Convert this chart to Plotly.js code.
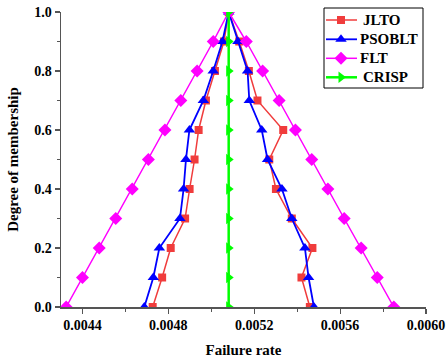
<!DOCTYPE html>
<html>
<head>
<meta charset="utf-8">
<script src="https://cdn.plot.ly/plotly-3.0.1.min.js"></script>
<style>html,body{margin:0;padding:0;background:#fff;}#chart{width:448px;height:364px;}</style>
</head>
<body>
<div id="chart"></div>
<script>
// membership levels (left branch up, then right branch down)
const membership = [0,0.1,0.2,0.3,0.4,0.5,0.6,0.7,0.8,0.9,1.0,0.9,0.8,0.7,0.6,0.5,0.4,0.3,0.2,0.1,0];

const jltoRate = [0.004727,0.004771,0.004811,0.004878,0.004899,0.004922,0.004941,0.004975,0.005017,0.005059,0.005081,
                  0.005130,0.005175,0.005215,0.005335,0.005270,0.005301,0.005375,0.005471,0.005420,0.005459];
const psobltRate = [0.004688,0.004730,0.004758,0.004854,0.004871,0.004882,0.004898,0.004963,0.005009,0.005052,0.005081,
                    0.005124,0.005169,0.005177,0.005235,0.005262,0.005329,0.005375,0.005436,0.005453,0.005478];
const fltRate = [0.004324,0.004400,0.004478,0.004555,0.004632,0.004707,0.004784,0.004858,0.004934,0.005009,0.005081,
                 0.005163,0.005239,0.005316,0.005392,0.005468,0.005543,0.005619,0.005698,0.005773,0.005850];
const crispRate = [0.005081,0.005081,0.005081,0.005081,0.005081,0.005081,0.005081,0.005081,0.005081,0.005081,0.005081];
const crispMembership = [0,0.1,0.2,0.3,0.4,0.5,0.6,0.7,0.8,0.9,1.0];

const seriesNames = ['JLTO','PSOBLT','FLT','CRISP'];
const xTickVals = [0.0044,0.0048,0.0052,0.0056,0.0060];
const xTickText = ['0.0044','0.0048','0.0052','0.0056','0.0060'];
const yTickVals = [0,0.2,0.4,0.6,0.8,1.0];
const yTickText = ['0.0','0.2','0.4','0.6','0.8','1.0'];

const font = 'Times New Roman';

// series styles
const styles = [
  {color:'#f03c3c', width:1.5, symbol:'square', size:8},
  {color:'#0000ff', width:1.8, symbol:'triangle-up', size:10},
  {color:'#ff00ff', width:1.5, symbol:'diamond', size:10},
  {color:'#00ff00', width:2.5, symbol:'triangle-right', size:10}
];
const seriesX = [jltoRate, psobltRate, fltRate, crispRate];
const seriesY = [membership, membership, membership, crispMembership];

const traces = seriesNames.map((n,i) => ({
  x: seriesX[i], y: seriesY[i], name: n, mode:'lines+markers', showlegend:false,
  line:{color:styles[i].color, width:styles[i].width},
  marker:{symbol:styles[i].symbol, size:styles[i].size, color:styles[i].color}
}));

// legend (drawn on an overlay axis measured in pixels of the plot area)
const legendRowY = [20, 39.3, 58.3, 77.3];
const legendTextX = [362, 359, 359, 362];
const legendLineX = [326, 357];
const legendMarkX = 341;
seriesNames.forEach((n,i) => {
  traces.push({
    x: legendLineX, y: [legendRowY[i], legendRowY[i]],
    xaxis:'x2', yaxis:'y2', mode:'lines', showlegend:false, cliponaxis:false,
    line:{color:styles[i].color, width:styles[i].width}
  });
  traces.push({
    x: [legendMarkX], y: [legendRowY[i]],
    xaxis:'x2', yaxis:'y2', mode:'markers', showlegend:false, cliponaxis:false,
    marker:{symbol:styles[i].symbol, size:styles[i].size, color:styles[i].color}
  });
});
const annotations = seriesNames.map((n,i) => ({
  xref:'x2', yref:'y2', x: legendTextX[i], y: legendRowY[i], text: n, showarrow:false,
  xanchor:'left', yanchor:'middle', borderpad:0,
  font:{family:font, size:15, color:'#000', weight:'bold'}
}));

const axisCommon = {
  showgrid:false, zeroline:false, showline:true, linecolor:'#555', linewidth:1.5,
  ticks:'outside', ticklen:5, tickwidth:1.2, tickcolor:'#555', automargin:false,
  tickfont:{family:font, size:14, color:'#000', weight:'bold'}
};

const layout = {
  width:448, height:364,
  margin:{l:61, r:22, t:12, b:57, autoexpand:false},
  paper_bgcolor:'#fff', plot_bgcolor:'#fff',
  font:{family:font, color:'#000'},
  showlegend:false,
  annotations: annotations,
  shapes:[{type:'rect', xref:'paper', yref:'paper',
           x0:(324-61)/365, x1:(423-61)/365, y0:(307-88)/295, y1:(307-8)/295,
           line:{color:'#000', width:1}, fillcolor:'rgba(255,255,255,0)', layer:'above'}],
  xaxis: Object.assign({}, axisCommon, {
    range:[0.0043,0.0060], tickvals:xTickVals, ticktext:xTickText,
    minor:{dtick:0.0002, tick0:0.0044, ticks:'outside', ticklen:3, tickcolor:'#555', tickwidth:1},
    title:{text:'Failure rate', font:{family:font, size:15, color:'#000', weight:'bold'}, standoff:12}
  }),
  yaxis: Object.assign({}, axisCommon, {
    range:[0,1.0], tickvals:yTickVals, ticktext:yTickText,
    minor:{dtick:0.1, tick0:0, ticks:'outside', ticklen:3, tickcolor:'#555', tickwidth:1},
    title:{text:'Degree of membership', font:{family:font, size:15, color:'#000', weight:'bold'}, standoff:12}
  }),
  xaxis2:{overlaying:'x', anchor:'y2', range:[61,426], visible:false, fixedrange:true},
  yaxis2:{overlaying:'y', anchor:'x2', range:[307,12], visible:false, fixedrange:true}
};

Plotly.newPlot('chart', traces, layout, {displayModeBar:false, staticPlot:true});
</script>
</body>
</html>
